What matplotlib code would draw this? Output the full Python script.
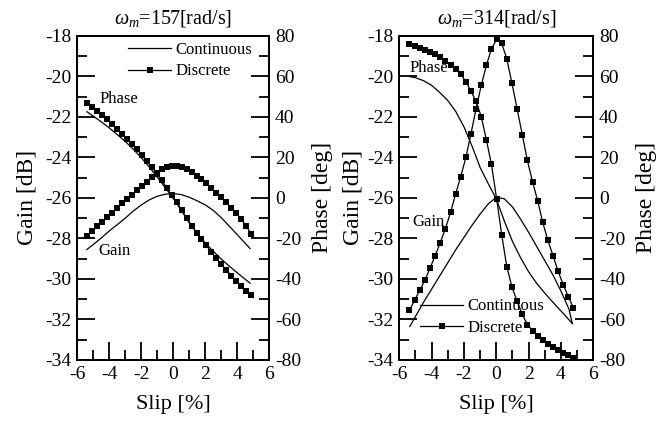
import matplotlib
matplotlib.use("Agg")
import matplotlib.pyplot as plt
from matplotlib.ticker import MultipleLocator
from matplotlib.lines import Line2D

plt.rcParams['font.family'] = ['Liberation Serif', 'DejaVu Serif']
plt.rcParams['mathtext.fontset'] = 'custom'
plt.rcParams['mathtext.rm'] = 'Liberation Serif'
plt.rcParams['mathtext.it'] = 'Liberation Serif:italic'
plt.rcParams['axes.unicode_minus'] = False

# ---------------- data: omega_m = 157 rad/s ----------------
slip_c157 = [-5.4, -5.0, -4.5, -4.0, -3.5, -3.0, -2.5, -2.0, -1.5, -1.0, -0.5, 0.0,
             0.5, 1.0, 1.5, 2.0, 2.5, 3.0, 3.5, 4.0, 4.5, 4.8]
gain_c157 = [-28.55, -28.3, -27.98, -27.63, -27.32, -27.0, -26.65, -26.35, -26.1, -25.92,
             -25.82, -25.79, -25.84, -25.97, -26.15, -26.35, -26.62, -26.98, -27.4, -27.82,
             -28.25, -28.5]
phase_c157 = [42.5, 40.3, 37.5, 34.5, 31.2, 27.8, 24.0, 19.8, 15.2, 10.2, 5.0, -0.3,
              -6.2, -12.3, -17.6, -22.3, -26.4, -30.2, -33.7, -37.0, -40.2, -42.1]

slip_d157 = [-5.37, -5.06, -4.75, -4.44, -4.13, -3.82, -3.51, -3.20, -2.89, -2.58, -2.27,
             -1.96, -1.65, -1.34, -1.03, -0.72, -0.41, -0.10, 0.21, 0.52, 0.83, 1.14, 1.45,
             1.76, 2.07, 2.38, 2.69, 3.00, 3.31, 3.62, 3.93, 4.24, 4.55, 4.86]
gain_d157 = [-27.89, -27.64, -27.40, -27.17, -26.96, -26.73, -26.50, -26.27, -26.05, -25.84,
             -25.63, -25.43, -25.21, -24.98, -24.75, -24.58, -24.49, -24.43, -24.41, -24.46,
             -24.57, -24.73, -24.91, -25.08, -25.28, -25.51, -25.74, -25.97, -26.22, -26.49,
             -26.75, -27.05, -27.39, -27.76]
phase_d157 = [47.0, 45.0, 42.9, 40.7, 38.7, 36.5, 33.8, 31.3, 28.9, 26.4, 23.9, 21.1, 18.2,
              15.2, 12.0, 8.6, 4.9, 1.2, -2.0, -6.0, -9.9, -13.7, -17.1, -20.4, -23.5, -26.8,
              -29.9, -32.8, -35.5, -38.4, -41.1, -43.5, -45.8, -47.7]

# ---------------- data: omega_m = 314 rad/s ----------------
slip_c314 = [-5.35, -5.0, -4.5, -4.0, -3.5, -3.0, -2.5, -2.0, -1.5, -1.0, -0.5, 0.0,
             0.5, 1.0, 1.5, 2.0, 2.5, 3.0, 3.5, 4.0, 4.5, 4.7]
gain_c314 = [-32.35, -31.85, -31.15, -30.5, -29.85, -29.2, -28.55, -27.95, -27.35, -26.8,
             -26.3, -25.97, -26.05, -26.45, -27.05, -27.7, -28.4, -29.1, -29.8, -30.6,
             -31.5, -32.2]
phase_c314 = [59.8, 59.3, 57.8, 55.5, 52.0, 48.0, 42.5, 35.0, 25.5, 15.0, 7.0, -0.5,
              -11.5, -21.5, -29.5, -36.5, -42.2, -47.0, -51.5, -55.8, -60.2, -62.0]

slip_d314 = [-5.37, -5.05, -4.73, -4.42, -4.10, -3.78, -3.47, -3.15, -2.83, -2.52, -2.20,
             -1.88, -1.57, -1.25, -0.93, -0.61, -0.30, 0.02, 0.34, 0.65, 0.97, 1.29, 1.61,
             1.92, 2.24, 2.56, 2.87, 3.19, 3.51, 3.82, 4.14, 4.46, 4.77]
gain_d314 = [-31.55, -31.05, -30.55, -30.07, -29.47, -28.85, -28.22, -27.52, -26.72, -25.82,
             -24.95, -24.00, -22.85, -21.6, -20.45, -19.45, -18.65, -18.18, -18.38, -19.15,
             -20.35, -21.62, -22.90, -24.15, -25.2, -26.15, -27.2, -28.1, -28.85, -29.62,
             -30.28, -30.88, -31.42]
phase_d314 = [75.9, 75.1, 74.1, 73.1, 72.1, 70.8, 69.3, 67.6, 65.7, 63.6, 60.9, 57.4, 52.6,
              47.6, 40.0, 28.5, 16.5, -0.5, -18.5, -34.0, -44.0, -51.0, -57.5, -62.5, -65.5,
              -68.0, -70.2, -72.0, -73.6, -75.0, -76.3, -77.5, -79.0]

titles = [r'$\omega_m$=157[rad/s]', r'$\omega_m$=314[rad/s]']
gain_ticks = [-34, -32, -30, -28, -26, -24, -22, -20, -18]
phase_ticks = [-80, -60, -40, -20, 0, 20, 40, 60, 80]
slip_ticks = [-6, -4, -2, 0, 2, 4, 6]

W, H = 669, 421
fig = plt.figure(figsize=(W / 100, H / 100), dpi=100)

panels = [
    dict(rect=[77.3 / W, (421 - 360) / H, 192 / W, 324.3 / H],
         sc=slip_c157, gc=gain_c157, pc=phase_c157,
         sd=slip_d157, gd=gain_d157, pd=phase_d157, title=titles[0],
         phase_lbl=(-4.6, -21.1), gain_lbl=(-4.7, -28.6),
         leg=dict(loc='upper left', bbox_to_anchor=(0.264, 0.982))),
    dict(rect=[399.3 / W, (421 - 360) / H, 194 / W, 324.3 / H],
         sc=slip_c314, gc=gain_c314, pc=phase_c314,
         sd=slip_d314, gd=gain_d314, pd=phase_d314, title=titles[1],
         phase_lbl=(-5.35, -19.6), gain_lbl=(-5.2, -27.2),
         leg=dict(loc='upper left', bbox_to_anchor=(0.107, 0.19))),
]

tick_fs = 14
lab_fs = 17
lw_sp = 1.4
ms = 3.7

for i, p in enumerate(panels):
    ax = fig.add_axes(p['rect'])
    ax2 = ax.twinx()
    ax.plot(p['sc'], p['gc'], color='black', lw=0.9)
    ax2.plot(p['sc'], p['pc'], color='black', lw=0.9)
    ax.plot(p['sd'], p['gd'], color='black', lw=0.9, marker='s', ms=ms,
            markeredgewidth=0)
    ax2.plot(p['sd'], p['pd'], color='black', lw=0.9, marker='s', ms=ms,
             markeredgewidth=0)

    ax.set_xlim(-6, 6)
    ax.set_ylim(-34, -18)
    ax2.set_ylim(-80, 80)
    ax.set_xticks(slip_ticks)
    ax.set_yticks(gain_ticks)
    ax2.set_yticks(phase_ticks)
    ax.xaxis.set_minor_locator(MultipleLocator(1))
    ax.yaxis.set_minor_locator(MultipleLocator(1))
    ax2.yaxis.set_minor_locator(MultipleLocator(10))

    ax.tick_params(axis='both', which='major', direction='in', length=13, width=1.3,
                   labelsize=tick_fs, pad=4, top=False, right=False)
    ax.tick_params(axis='both', which='minor', direction='in', length=7, width=1.3,
                   top=False, right=False)
    ax2.tick_params(axis='y', which='major', direction='in', length=13, width=1.3,
                    labelsize=tick_fs, pad=4)
    ax2.tick_params(axis='y', which='minor', direction='in', length=7, width=1.3)

    for a in (ax, ax2):
        for s in a.spines.values():
            s.set_linewidth(lw_sp)

    ax.set_xlabel('Slip [%]', fontsize=16, labelpad=9)
    ax.set_ylabel('Gain [dB]', fontsize=lab_fs, labelpad=6 if i == 0 else 3)
    ax2.set_ylabel('Phase [deg]', fontsize=lab_fs, labelpad=8)
    ax.set_title(p['title'], fontsize=14.5, pad=9)

    ax.text(p['phase_lbl'][0], p['phase_lbl'][1], 'Phase', fontsize=12,
            ha='left', va='center')
    ax.text(p['gain_lbl'][0], p['gain_lbl'][1], 'Gain', fontsize=12,
            ha='left', va='center')

    handles = [Line2D([], [], color='black', lw=0.9),
               Line2D([], [], color='black', lw=0.9, marker='s', ms=ms,
                      markeredgewidth=0)]
    ax.legend(handles, ['Continuous', 'Discrete'], frameon=False, fontsize=12,
              handlelength=2.6, handletextpad=0.25, labelspacing=0.35,
              borderpad=0, borderaxespad=0, numpoints=1, **p['leg'])

fig.savefig('out.png', dpi=100)
